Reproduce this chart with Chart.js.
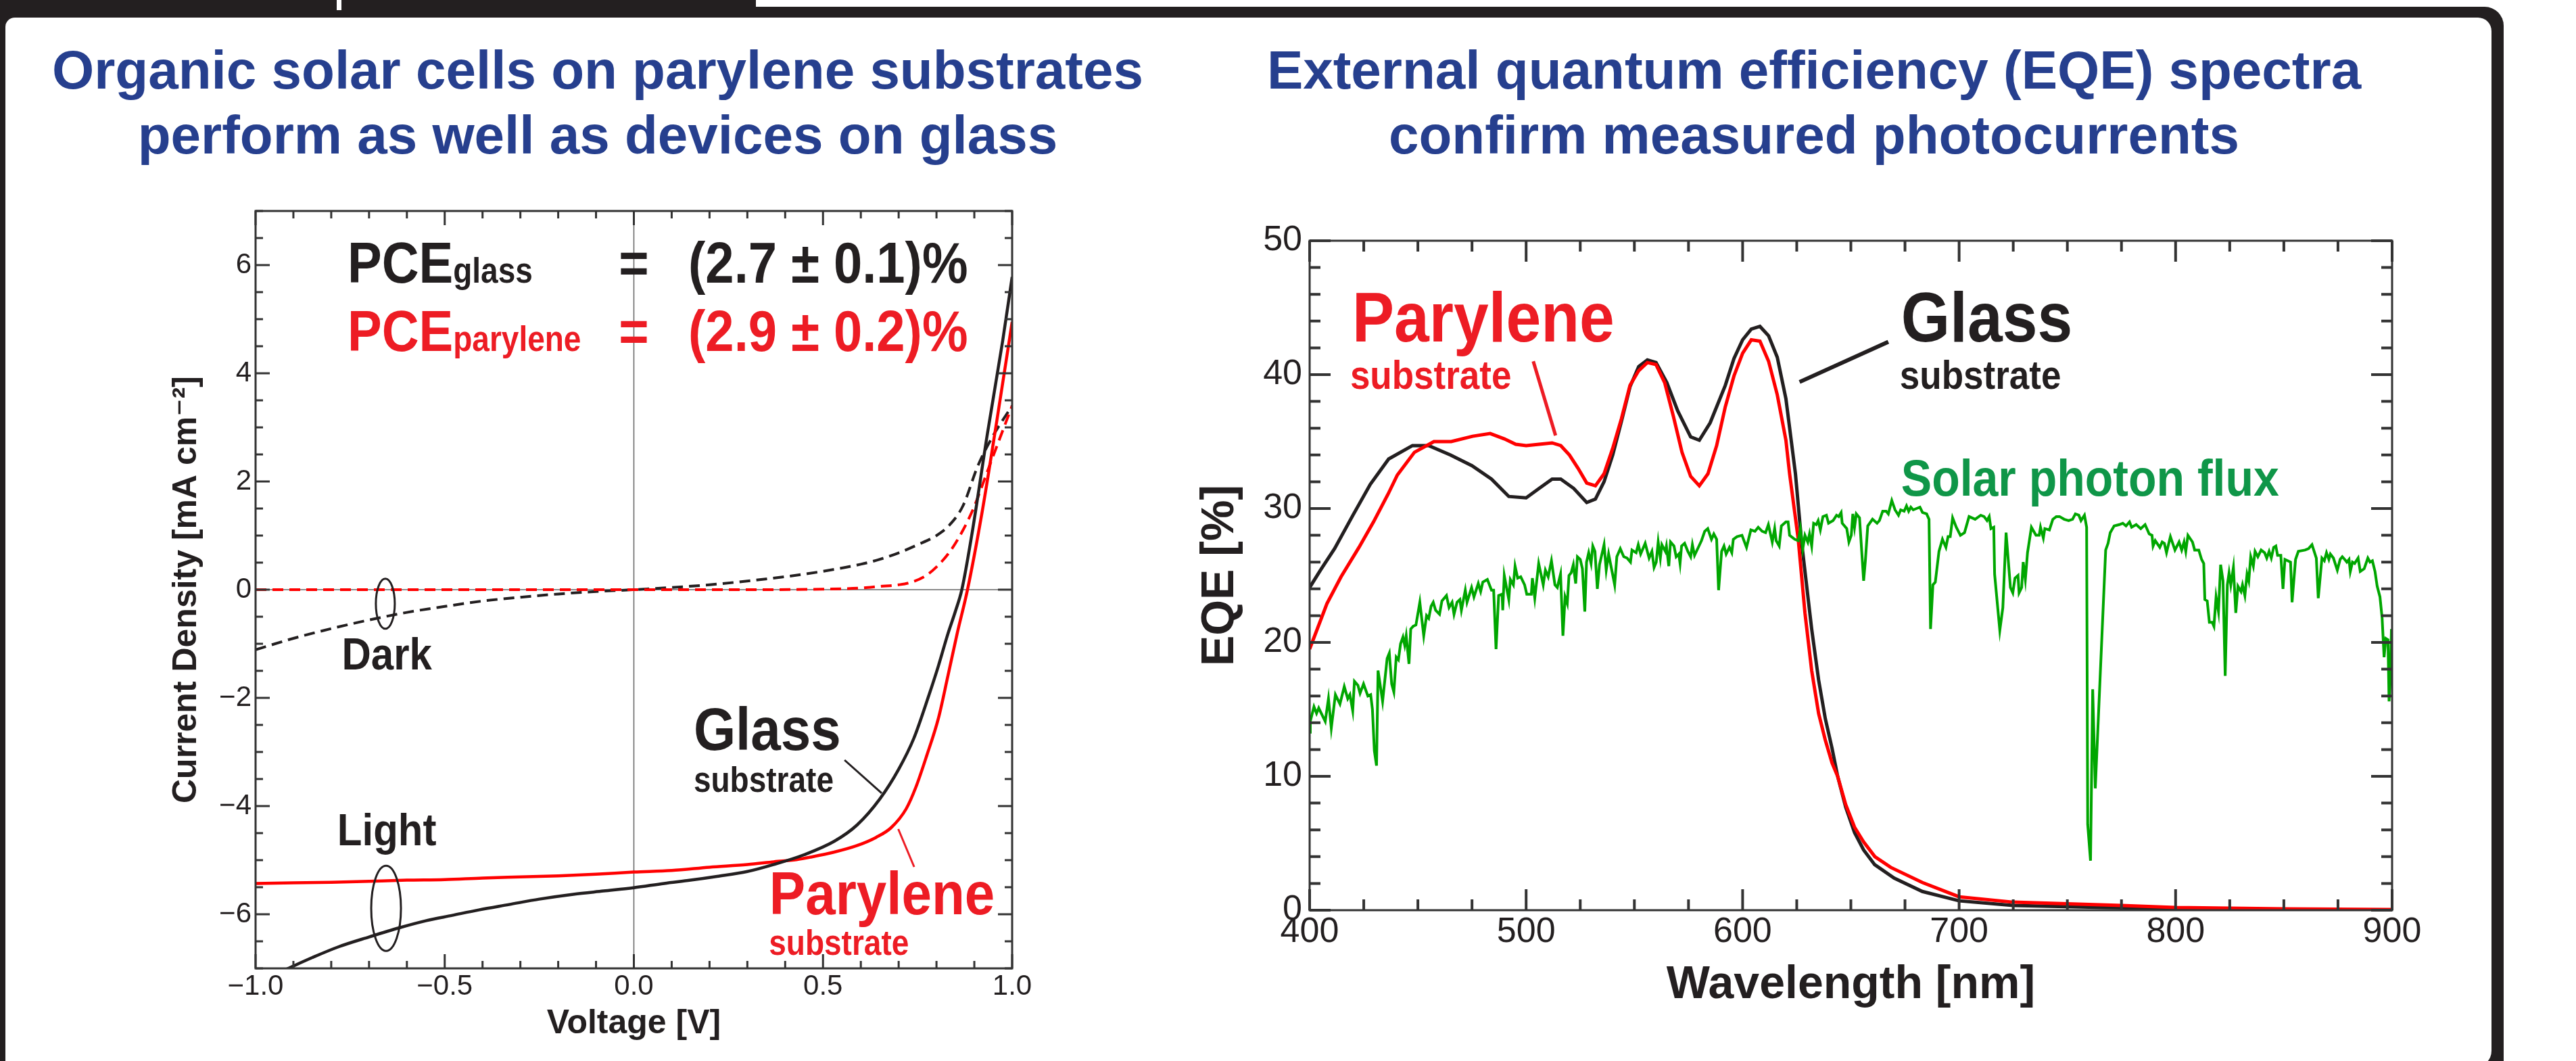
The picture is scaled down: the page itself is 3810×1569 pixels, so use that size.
<!DOCTYPE html>
<html>
<head>
<meta charset="utf-8">
<script src="https://cdn.jsdelivr.net/npm/chart.js@4.4.1/dist/chart.umd.min.js"></script>
<style>
  html, body { margin: 0; padding: 0; background: #fff; }
  body { width: 3810px; height: 1569px; position: relative; overflow: hidden; font-family: "Liberation Sans", Arial, sans-serif; }
  .abs { position: absolute; }
  #frame { left: 0; top: 10px; width: 3703px; height: 1620px; background: #231f20; border-top-right-radius: 28px; }
  #tab { left: 0; top: 0; width: 1118px; height: 26px; background: #231f20; }
  #tabMark { left: 498px; top: 0; width: 7px; height: 15px; background: #fff; }
  #panel { left: 8px; top: 26px; width: 3677px; height: 1552px; background: #fff; border-radius: 14px 20px 24px 0; }
  .title { width: 1800px; top: 56px; text-align: center; color: #263f8e; font-weight: bold; font-size: 80px; line-height: 96px; }
  #t1 { left: -16px; }
  #t2 { left: 1783px; }
  #jv { left: 200px; top: 280px; }
  #eqe { left: 1620px; top: 280px; }
</style>
</head>
<body>
<div id="frame" class="abs"></div>
<div id="tab" class="abs"></div>
<div id="tabMark" class="abs"></div>
<div id="panel" class="abs"></div>
<div id="t1" class="abs title">Organic solar cells on parylene substrates<br>perform as well as devices on glass</div>
<div id="t2" class="abs title">External quantum efficiency (EQE) spectra<br>confirm measured photocurrents</div>
<canvas id="jv" class="abs" width="1400" height="1289"></canvas>
<canvas id="eqe" class="abs" width="2060" height="1289"></canvas>

<script>
// ---- J-V curves, [voltage V, current density mA/cm2] ----
const glassLight = [[-0.92,-7.02],[-0.85,-6.80],[-0.78,-6.60],[-0.70,-6.42],[-0.62,-6.25],[-0.55,-6.12],[-0.48,-6.02],[-0.41,-5.92],[-0.33,-5.82],[-0.25,-5.72],[-0.16,-5.63],[-0.08,-5.57],[0.0,-5.51],[0.08,-5.43],[0.15,-5.37],[0.22,-5.30],[0.30,-5.21],[0.37,-5.08],[0.45,-4.90],[0.53,-4.65],[0.59,-4.35],[0.65,-3.87],[0.70,-3.32],[0.74,-2.75],[0.78,-1.95],[0.805,-1.41],[0.83,-0.82],[0.85,-0.40],[0.867,0.0],[0.893,1.0],[0.935,2.9],[0.975,4.6],[1.0,5.78]];
const parylLight = [[-1.0,-5.43],[-0.9,-5.42],[-0.8,-5.41],[-0.7,-5.39],[-0.6,-5.37],[-0.5,-5.36],[-0.4,-5.33],[-0.3,-5.31],[-0.2,-5.29],[-0.1,-5.26],[0.0,-5.22],[0.1,-5.19],[0.2,-5.13],[0.3,-5.08],[0.37,-5.03],[0.43,-4.99],[0.47,-4.94],[0.53,-4.85],[0.59,-4.73],[0.64,-4.58],[0.68,-4.40],[0.72,-4.05],[0.745,-3.66],[0.775,-3.05],[0.805,-2.38],[0.83,-1.6],[0.855,-0.8],[0.882,0.0],[0.921,1.45],[0.959,3.1],[1.0,4.95]];
const glassDark = [[-1.0,-1.11],[-0.9,-0.9],[-0.8,-0.72],[-0.7,-0.56],[-0.6,-0.42],[-0.5,-0.31],[-0.4,-0.21],[-0.3,-0.14],[-0.2,-0.08],[-0.1,-0.035],[0.0,0.0],[0.1,0.04],[0.2,0.09],[0.3,0.16],[0.4,0.24],[0.5,0.34],[0.6,0.47],[0.65,0.56],[0.7,0.68],[0.75,0.83],[0.8,1.0],[0.835,1.2],[0.87,1.55],[0.91,2.3],[0.95,2.85],[1.0,3.4]];
const parylDark = [[-1.0,0.0],[-0.5,0.0],[0.0,0.0],[0.3,0.0],[0.5,0.01],[0.6,0.03],[0.65,0.06],[0.7,0.09],[0.73,0.13],[0.77,0.25],[0.8,0.42],[0.835,0.7],[0.87,1.1],[0.9,1.54],[0.93,2.1],[0.96,2.66],[1.0,3.4]];

// ---- EQE spectra, [wavelength nm, EQE %] ----
const glassEqe = [[400,24.1],[405,25.4],[411.5,27.0],[420,29.5],[428,31.8],[436.5,33.7],[447.5,34.7],[455,34.7],[465,34.0],[475,33.2],[484,32.2],[492,30.9],[500,30.8],[506,31.5],[512,32.2],[516,32.2],[522,31.5],[528,30.45],[532,30.7],[536,32.0],[540,34.0],[544,36.5],[548,39.1],[552,40.6],[556,41.1],[560,40.9],[565,39.4],[570,37.3],[576,35.35],[580,35.1],[585,36.4],[592,39.2],[596,41.2],[600,42.6],[604,43.4],[608,43.6],[612,42.9],[616,41.3],[620,38.2],[624.4,32.6],[627.3,27.4],[631.9,21.0],[635.1,17.2],[638.2,14.3],[641.3,12.1],[643.9,10.0],[647.6,7.7],[651.7,5.8],[655.9,4.5],[661,3.4],[670,2.4],[683,1.4],[700,0.7],[725,0.35],[767,0.2],[830,0.05],[900,0.0]];
const parylEqe = [[400,19.5],[408,22.9],[414.5,24.9],[422.8,27.1],[429.5,29.0],[436.3,31.1],[440.5,32.5],[448.4,34.2],[457.4,35.0],[465.4,35.0],[475.3,35.4],[483.4,35.6],[490,35.2],[495.2,34.8],[500,34.7],[506,34.8],[512,34.9],[516,34.7],[520,34.0],[524,33.0],[528,31.9],[532,31.7],[536,32.6],[540,34.5],[544,36.7],[548,39.2],[552,40.3],[556,40.9],[560,40.75],[564,39.4],[568,36.9],[572,34.2],[576,32.4],[580,31.7],[584,32.6],[588,34.7],[592,37.6],[596,39.9],[600,41.6],[604,42.6],[608,42.5],[612,41.0],[616,38.5],[620,35.1],[621.7,32.6],[625.7,27.7],[628.8,22.2],[631.9,17.9],[635.1,14.7],[638.2,12.7],[641.3,11.0],[643.9,10.0],[647.6,7.9],[651.7,6.2],[655.9,5.1],[661.1,4.0],[668.4,3.2],[683,2.07],[700,1.0],[725,0.6],[775,0.35],[800,0.2],[850,0.1],[900,0.05]];
const solarFlux = [[400.0,13.3],[400.3,14.1],[402.0,15.2],[403.2,14.7],[404.2,15.1],[407.2,14.1],[408.7,15.8],[410.0,13.6],[411.9,16.1],[414.0,15.4],[416.0,16.7],[417.6,15.8],[418.6,16.1],[419.9,14.9],[420.7,17.1],[422.3,16.8],[423.3,16.2],[424.9,16.9],[426.9,16.0],[428.2,16.1],[429.0,15.0],[429.9,11.9],[430.9,10.8],[431.6,17.9],[433.7,15.6],[435.8,18.8],[436.8,19.2],[437.9,16.9],[438.9,16.3],[440.0,18.9],[441.0,18.7],[442.0,19.9],[443.1,20.4],[443.9,19.8],[444.6,20.5],[445.9,18.4],[446.7,21.0],[447.8,21.2],[449.1,21.3],[450.9,23.0],[452.7,20.5],[454.0,22.0],[455.0,21.8],[456.1,22.7],[457.1,23.0],[458.2,22.4],[460.0,22.1],[461.1,23.1],[463.2,23.5],[464.4,22.6],[465.8,23.0],[466.7,22.1],[468.1,23.0],[469.4,23.2],[470.1,22.4],[471.9,23.9],[472.7,23.0],[474.8,24.1],[475.9,23.4],[477.9,24.4],[479.0,23.8],[480.0,24.5],[482.1,24.7],[484.0,23.9],[485.0,23.9],[486.1,19.5],[487.3,23.5],[488.9,23.6],[489.2,22.4],[489.9,25.0],[492.0,23.2],[492.7,24.7],[494.1,24.3],[494.9,25.7],[496.1,24.8],[497.5,24.9],
  [499.3,24.3],[500.3,23.6],[502.4,23.6],[502.9,24.8],[504.0,23.3],[505.8,25.9],[507.9,24.3],[508.9,25.4],[510.2,24.9],[511.7,26.1],[513.3,24.3],[514.4,24.1],[515.9,25.1],[517.0,20.5],[518.0,23.4],[519.0,22.9],[519.8,25.0],[520.8,25.2],[521.8,25.8],[522.9,24.4],[523.7,26.4],[525.0,26.2],[526.0,25.5],[527.1,22.3],[527.9,26.0],[528.9,26.7],[530.0,25.9],[530.8,27.2],[531.8,26.8],[532.9,24.0],[533.9,25.8],[536.0,27.3],[537.0,25.4],[538.1,26.6],[540.9,24.3],[541.9,26.4],[543.5,27.0],[545.1,26.4],[546.6,26.3],[548.2,26.0],[548.9,26.9],[550.8,26.7],[551.8,27.3],[552.9,26.6],[555.0,27.4],[556.8,26.3],[558.1,26.8],[559.1,25.6],[560.1,26.0],[561.0,27.5],[562.0,26.3],[562.7,27.3],[564.3,26.8],[564.8,27.2],[565.9,25.7],[566.7,27.5],[568.3,27.2],[569.3,26.4],[570.5,26.6],[571.1,25.9],[571.8,27.2],[573.2,27.4],[574.7,26.8],[576.0,26.4],[576.8,27.3],[577.8,26.5],[581.0,27.6],[582.5,28.3],[583.9,28.5],[585.6,27.7],[586.7,28.1],[588.0,27.7],[588.9,23.9],[590.3,26.8],[591.4,27.2],[592.4,26.6],[593.9,27.1],[595.0,26.7],[595.7,27.7],[597.4,27.9],
  [599.7,28.0],[601.8,27.1],[603.8,28.4],[605.7,28.3],[607.2,28.6],[609.0,28.3],[610.6,28.2],[611.9,28.8],[613.7,27.5],[614.8,28.5],[615.5,27.6],[616.9,27.2],[617.9,28.7],[620.0,29.0],[621.0,29.0],[621.7,28.0],[624.1,27.7],[625.7,27.6],[626.7,28.5],[627.8,27.0],[628.8,28.0],[630.1,27.5],[630.9,28.1],[631.9,27.2],[632.8,28.9],[634.0,28.8],[634.9,29.1],[635.9,28.4],[637.1,29.4],[638.7,29.5],[639.7,28.9],[641.8,29.1],[643.4,29.5],[644.4,29.4],[645.5,29.7],[646.0,28.9],[648.1,28.5],[649.1,27.5],[650.2,28.0],[650.9,29.6],[651.7,28.6],[652.5,29.6],[654.0,29.3],[655.9,24.6],[656.7,26.1],[657.8,28.7],[660.0,29.2],[662.1,28.9],[663.2,29.1],[664.7,29.8],[666.3,29.8],[667.3,29.6],[668.9,30.6],[670.4,29.9],[672.0,29.5],[673.0,29.9],[674.6,29.8],[675.7,30.2],[676.7,29.8],[677.7,30.1],[678.8,29.9],[680.3,30.0],[681.9,30.1],[683.1,29.7],[685.0,29.6],[686.1,29.2],[686.8,21.0],[687.9,24.3],[689.0,24.5],[690.7,26.8],[692.3,27.7],[693.9,27.1],[694.9,27.9],[695.9,27.9],[697.0,29.3],
  [698.7,28.6],[700.6,28.0],[702.5,28.2],[704.6,29.4],[707.4,29.2],[710.0,29.5],[711.5,29.4],[712.9,29.1],[713.9,29.4],[714.7,28.5],[716.0,28.6],[716.4,25.1],[718.8,20.9],[720.2,22.6],[721.7,28.2],[723.7,24.1],[724.8,23.7],[725.8,24.8],[727.2,25.0],[727.7,23.7],[728.9,24.1],[729.6,26.0],[730.6,24.7],[731.6,26.7],[733.4,28.6],[735.5,28.0],[737.0,28.0],[737.6,28.6],[738.9,27.8],[739.6,28.5],[741.7,28.4],[743.3,29.2],[744.9,29.4],[746.4,29.4],[748.5,29.2],[750.6,29.1],[752.4,29.2],[753.7,29.6],[755.3,29.5],[756.3,29.1],[757.9,29.5],[758.9,28.6],[759.4,6.4],[760.7,3.7],[761.7,16.5],[762.9,9.1],[767.7,26.9],[768.8,27.4],[769.8,28.2],[771.6,28.7],[774.0,28.8],[775.6,28.9],[777.1,28.7],[778.7,29.0],[779.7,28.6],[781.8,28.8],[783.9,28.5],[785.9,28.8],[787.8,28.1],[789.1,28.0],[789.6,27.2],[790.6,27.6],[792.7,27.1],[793.8,27.5],[794.8,27.4],[795.8,26.7],[797.6,27.9],
  [799.7,26.9],[801.6,27.5],[802.8,26.9],[803.9,27.5],[804.7,26.8],[805.7,28.0],[807.8,27.5],[808.8,26.9],[810.7,26.9],[812.0,26.2],[813.0,25.9],[813.5,23.2],[814.6,23.1],[815.6,21.5],[816.9,21.5],[817.7,21.2],[818.7,23.4],[819.8,22.3],[820.8,25.8],[821.9,24.6],[822.9,17.5],[823.9,24.3],[824.7,25.2],[825.5,24.3],[826.7,25.6],[827.8,22.2],[828.8,24.2],[830.2,23.8],[830.9,24.3],[832.0,23.5],[833.0,25.1],[833.8,24.6],[834.7,26.4],[835.9,25.7],[836.7,26.8],[838.0,26.4],[839.5,26.9],[841.1,26.7],[842.1,26.3],[843.2,26.8],[844.2,26.3],[845.3,27.1],[846.3,27.2],[847.1,26.5],[848.6,26.5],[849.6,24.0],[850.5,26.2],[853.1,26.0],[853.8,23.0],[855.4,26.2],[856.7,26.8],[859.8,26.9],[861.4,27.0],[863.0,27.3],[865.0,26.3],[865.9,23.3],[867.6,26.3],[868.7,26.1],[869.7,26.7],[870.8,26.2],[871.5,26.6],[872.9,26.3],[874.7,25.4],[876.0,26.2],[877.0,26.4],[878.1,26.2],[879.1,26.0],[880.1,26.2],[880.7,25.3],[881.7,26.0],[882.7,25.9],[884.3,26.3],[885.3,25.3],[887.1,25.5],[888.8,26.3],[889.8,26.0],[890.9,26.1],[892.1,25.3],[893.1,24.2],[894.4,23.4],[895.4,21.8],[896.3,18.9],[897.1,20.3],[898.1,20.2],[898.6,15.6],[899.2,17.2],[899.7,21.0],[900.2,17.2]];

// ---- tick labels ----
const jvTicksX = [-1, -0.5, 0, 0.5, 1];
const jvTicksY = [-6, -4, -2, 0, 2, 4, 6];
const eqeTicksX = [400, 500, 600, 700, 800, 900];
const eqeTicksY = [0, 10, 20, 30, 40, 50];

const FONT = '"Liberation Sans", Arial, "DejaVu Sans", sans-serif';
const INK = '#231f20';
const RED = '#ff0000';
const RED_TEXT = '#ed1c24';
const GREEN = '#00a600';
const GREEN_TEXT = '#0f9648';

Chart.defaults.font.family = FONT;
Chart.defaults.color = INK;
Chart.defaults.animation = false;

const pts = (arr) => arr.map(([x, y]) => ({ x, y }));
const minus = (s) => s.replace('-', '\u2212');

// box with inward major/minor ticks on all four sides
const frameTicks = {
  id: 'frameTicks',
  afterDatasetsDraw(chart, args, o) {
    const { ctx, chartArea: a, scales: { x, y } } = chart;
    const walk = (scale, minor, major, draw) => {
      const n = Math.round((scale.max - scale.min) / minor);
      for (let i = 0; i <= n; i++) {
        const v = scale.min + i * minor;
        const r = v / major;
        draw(scale.getPixelForValue(v), Math.abs(r - Math.round(r)) < 1e-6 ? o.majorLen : o.minorLen);
      }
    };
    ctx.save();
    ctx.strokeStyle = o.color;
    ctx.lineWidth = o.tickWidth;
    ctx.beginPath();
    walk(x, o.xMinor, o.xMajor, (p, len) => {
      ctx.moveTo(p, a.bottom); ctx.lineTo(p, a.bottom - len);
      ctx.moveTo(p, a.top); ctx.lineTo(p, a.top + len);
    });
    walk(y, o.yMinor, o.yMajor, (p, len) => {
      ctx.moveTo(a.left, p); ctx.lineTo(a.left + len, p);
      ctx.moveTo(a.right, p); ctx.lineTo(a.right - len, p);
    });
    ctx.stroke();
    ctx.lineWidth = o.frameWidth;
    ctx.strokeRect(a.left, a.top, a.width, a.height);
    ctx.restore();
  }
};

const zeroLines = {
  id: 'zeroLines',
  beforeDatasetsDraw(chart, args, o) {
    const { ctx, chartArea: a, scales: { x, y } } = chart;
    const x0 = x.getPixelForValue(0), y0 = y.getPixelForValue(0);
    ctx.save();
    ctx.strokeStyle = o.color;
    ctx.lineWidth = o.width;
    ctx.beginPath();
    ctx.moveTo(x0, a.top); ctx.lineTo(x0, a.bottom);
    ctx.moveTo(a.left, y0); ctx.lineTo(a.right, y0);
    ctx.stroke();
    ctx.restore();
  }
};

// labels, ellipses and leader lines placed in data units
const notes = {
  id: 'notes',
  afterDatasetsDraw(chart, args, o) {
    const { ctx, scales: { x, y } } = chart;
    const sq = o.squeeze || 1;
    ctx.save();
    for (const n of o.items) {
      const color = n.color || INK;
      ctx.fillStyle = color;
      ctx.strokeStyle = color;
      if (n.kind === 'text') {
        const px = x.getPixelForValue(n.x), py = y.getPixelForValue(n.y);
        const widths = n.parts.map(([s, size]) => {
          ctx.font = `bold ${size / sq}px ${FONT}`;
          return ctx.measureText(s).width * sq;
        });
        const total = widths.reduce((a, b) => a + b, 0);
        let cx = n.align === 'center' ? px - total / 2 : px;
        n.parts.forEach(([s, size], i) => {
          ctx.save();
          ctx.translate(cx, py);
          ctx.scale(sq, 1);
          ctx.font = `bold ${size / sq}px ${FONT}`;
          ctx.textBaseline = 'alphabetic';
          ctx.textAlign = 'left';
          ctx.fillText(s, 0, 0);
          ctx.restore();
          cx += widths[i];
        });
      } else if (n.kind === 'ellipse') {
        ctx.lineWidth = n.width;
        ctx.beginPath();
        ctx.ellipse(x.getPixelForValue(n.x), y.getPixelForValue(n.y), n.rx, n.ry, 0, 0, Math.PI * 2);
        ctx.stroke();
      } else if (n.kind === 'line') {
        ctx.lineWidth = n.width;
        ctx.beginPath();
        ctx.moveTo(x.getPixelForValue(n.x1), y.getPixelForValue(n.y1));
        ctx.lineTo(x.getPixelForValue(n.x2), y.getPixelForValue(n.y2));
        ctx.stroke();
      }
    }
    ctx.restore();
  }
};

const line = (data, color, width, dash) => ({
  data: pts(data), showLine: true, pointRadius: 0, borderColor: color,
  borderWidth: width, borderDash: dash || [], cubicInterpolationMode: 'monotone', fill: false
});

// ---------- left: J-V ----------
new Chart(document.getElementById('jv'), {
  type: 'scatter',
  data: {
    datasets: [
      line(glassLight, INK, 4.5),
      line(parylLight, RED, 4.5),
      line(parylDark, RED, 4, [16, 9]),
      line(glassDark, INK, 4, [16, 9]),
    ]
  },
  options: {
    responsive: false,
    layout: { padding: { left: 0, top: 32, right: 103, bottom: 17 } },
    plugins: {
      legend: { display: false },
      tooltip: { enabled: false },
      zeroLines: { color: '#666', width: 1.5 },
      frameTicks: { color: '#333', tickWidth: 3, frameWidth: 3, majorLen: 21, minorLen: 11, xMinor: 0.1, xMajor: 0.5, yMinor: 0.5, yMajor: 2 },
      notes: {
        squeeze: 0.9,
        items: [
          { kind: 'text', x: -0.757, y: 5.675, parts: [['PCE', 76], ['glass', 46]] },
          { kind: 'text', x: 0.0, y: 5.675, align: 'center', parts: [['=', 76]] },
          { kind: 'text', x: 0.144, y: 5.675, parts: [['(2.7 \u00b1 0.1)%', 76]] },
          { kind: 'text', x: -0.757, y: 4.41, color: RED_TEXT, parts: [['PCE', 76], ['parylene', 46]] },
          { kind: 'text', x: 0.0, y: 4.41, align: 'center', color: RED_TEXT, parts: [['=', 76]] },
          { kind: 'text', x: 0.144, y: 4.41, color: RED_TEXT, parts: [['(2.9 \u00b1 0.2)%', 76]] },
          { kind: 'ellipse', x: -0.657, y: -0.26, rx: 14, ry: 37, width: 3 },
          { kind: 'text', x: -0.653, y: -1.475, align: 'center', parts: [['Dark', 60]] },
          { kind: 'ellipse', x: -0.655, y: -5.89, rx: 22, ry: 63, width: 3 },
          { kind: 'text', x: -0.653, y: -4.725, align: 'center', parts: [['Light', 60]] },
          { kind: 'text', x: 0.158, y: -2.96, parts: [['Glass', 80]] },
          { kind: 'text', x: 0.158, y: -3.74, parts: [['substrate', 46]] },
          { kind: 'line', x1: 0.557, y1: -3.15, x2: 0.655, y2: -3.76, width: 3 },
          { kind: 'text', x: 0.358, y: -6.0, color: RED_TEXT, parts: [['Parylene', 80]] },
          { kind: 'text', x: 0.357, y: -6.75, color: RED_TEXT, parts: [['substrate', 46]] },
          { kind: 'line', x1: 0.699, y1: -4.425, x2: 0.741, y2: -5.125, width: 3, color: RED_TEXT },
        ]
      }
    },
    scales: {
      x: {
        type: 'linear', min: -1, max: 1,
        afterBuildTicks: (s) => { s.ticks = jvTicksX.map((value) => ({ value })); },
        afterFit: (s) => { s.height = 120; },
        grid: { display: false, drawTicks: false },
        border: { display: false },
        ticks: { font: { size: 42 }, padding: 2, maxRotation: 0, autoSkip: false, callback: (v) => minus(v.toFixed(1)) },
        title: { display: true, text: 'Voltage [V]', font: { size: 50, weight: 'bold' }, padding: { top: 0, bottom: 8 } }
      },
      y: {
        type: 'linear', min: -7, max: 7,
        afterBuildTicks: (s) => { s.ticks = jvTicksY.map((value) => ({ value })); },
        afterFit: (s) => { s.width = 178; },
        grid: { display: false, drawTicks: false },
        border: { display: false },
        ticks: { font: { size: 42 }, padding: 6, autoSkip: false, callback: (v) => minus(String(v)) },
        title: { display: true, text: 'Current Density [mA cm\u207b\u00b2]', font: { size: 50, weight: 'bold' }, padding: { top: 46, bottom: 0 } }
      }
    }
  },
  plugins: [zeroLines, frameTicks, notes]
});

// ---------- right: EQE ----------
new Chart(document.getElementById('eqe'), {
  type: 'scatter',
  data: {
    datasets: [
      line(solarFlux, GREEN, 4),
      line(parylEqe, RED, 5),
      line(glassEqe, INK, 5),
    ].map((d) => ({ ...d, cubicInterpolationMode: 'default' }))
  },
  options: {
    responsive: false,
    layout: { padding: { left: 0, top: 76, right: 142, bottom: 23 } },
    plugins: {
      legend: { display: false },
      tooltip: { enabled: false },
      frameTicks: { color: '#333', tickWidth: 4, frameWidth: 3, majorLen: 31, minorLen: 16, xMinor: 25, xMajor: 100, yMinor: 2, yMajor: 10 },
      notes: {
        squeeze: 0.9,
        items: [
          { kind: 'text', x: 419.7, y: 42.47, color: RED_TEXT, parts: [['Parylene', 93]] },
          { kind: 'text', x: 418.7, y: 38.94, color: RED_TEXT, parts: [['substrate', 53]] },
          { kind: 'line', x1: 503.3, y1: 41.0, x2: 513.6, y2: 35.45, width: 5, color: RED_TEXT },
          { kind: 'text', x: 673.2, y: 42.47, parts: [['Glass', 93]] },
          { kind: 'text', x: 672.6, y: 38.94, parts: [['substrate', 53]] },
          { kind: 'line', x1: 667.3, y1: 42.45, x2: 626.3, y2: 39.45, width: 6 },
          { kind: 'text', x: 673.2, y: 30.96, color: GREEN_TEXT, parts: [['Solar photon flux', 68]] },
        ]
      }
    },
    scales: {
      x: {
        type: 'linear', min: 400, max: 900,
        afterBuildTicks: (s) => { s.ticks = eqeTicksX.map((value) => ({ value })); },
        afterFit: (s) => { s.height = 200; },
        grid: { display: false, drawTicks: false },
        border: { display: false },
        ticks: { font: { size: 52 }, padding: 1, maxRotation: 0, autoSkip: false },
        title: { display: true, text: 'Wavelength [nm]', font: { size: 68, weight: 'bold' }, padding: { top: 0, bottom: 48 } }
      },
      y: {
        type: 'linear', min: 0, max: 50,
        afterBuildTicks: (s) => { s.ticks = eqeTicksY.map((value) => ({ value })); },
        afterFit: (s) => { s.width = 317; },
        grid: { display: false, drawTicks: false },
        border: { display: false },
        ticks: { font: { size: 52 }, padding: 11, autoSkip: false },
        title: { display: true, text: 'EQE [%]', font: { size: 68, weight: 'bold' }, padding: { top: 144, bottom: 0 } }
      }
    }
  },
  plugins: [frameTicks, notes]
});
</script>
</body>
</html>
